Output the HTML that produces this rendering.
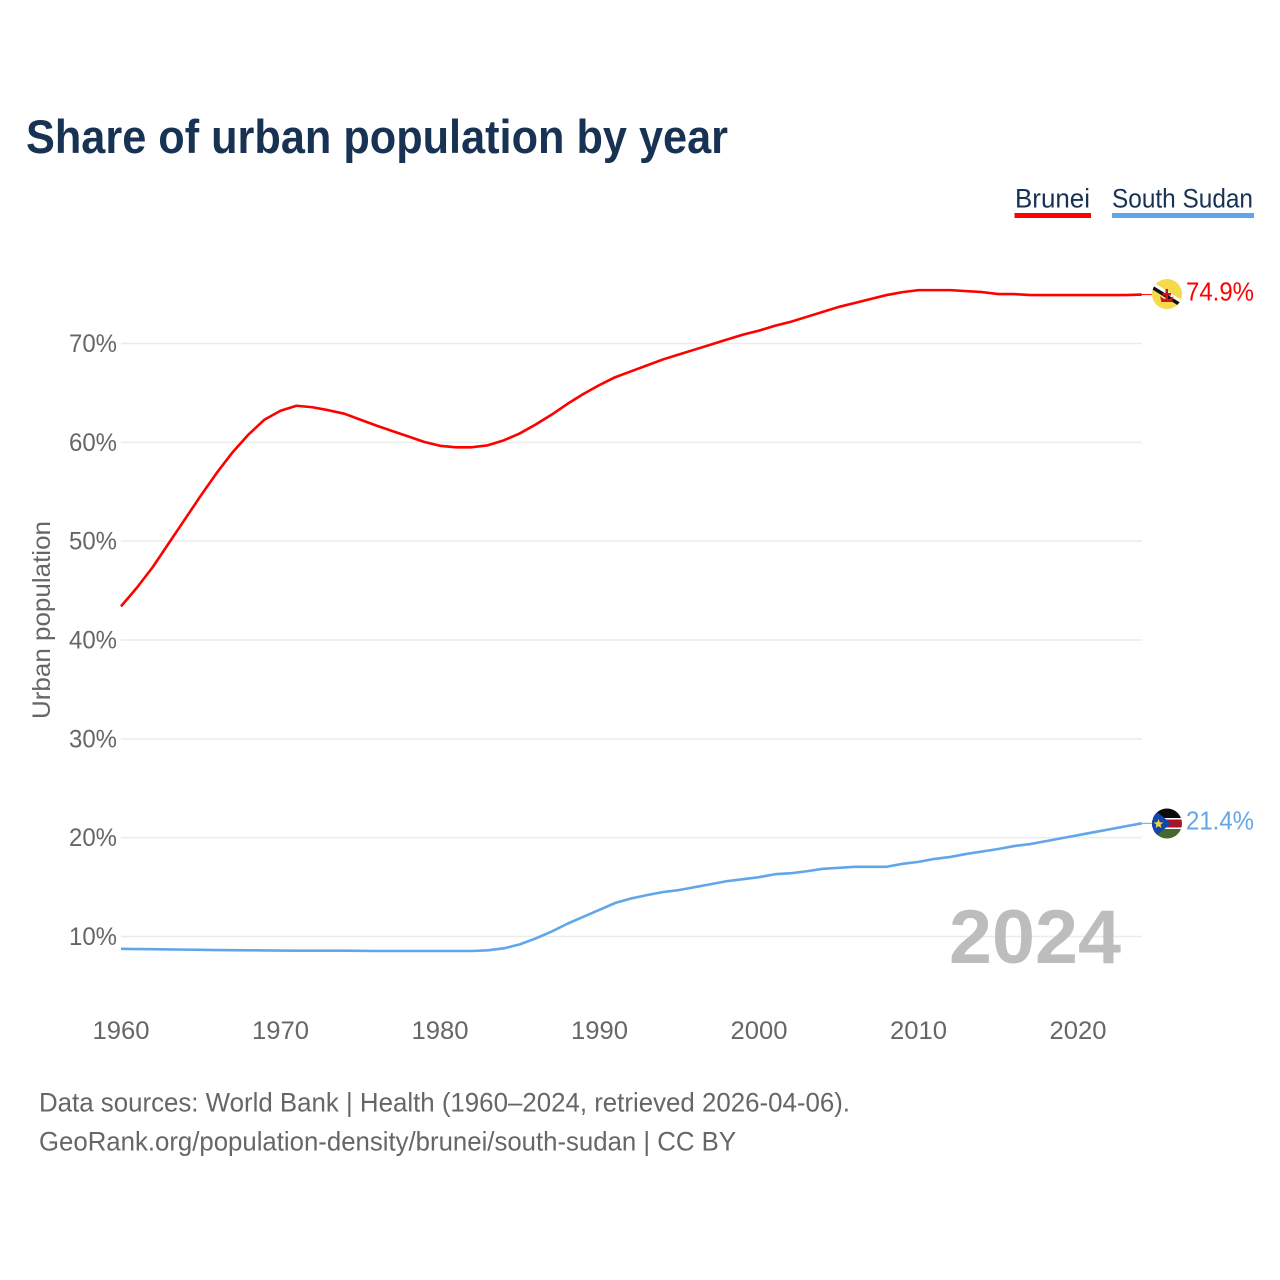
<!DOCTYPE html>
<html lang="en">
<head>
<meta charset="utf-8">
<title>Share of urban population by year</title>
<style>
html,body{margin:0;padding:0;background:#fff;}
svg{display:block;}
text{font-family:"Liberation Sans",sans-serif;}
</style>
</head>
<body>
<svg id="chart" xmlns="http://www.w3.org/2000/svg" width="1280" height="1280" viewBox="0 0 1280 1280">
  <rect width="1280" height="1280" fill="#fff"/>
  <text x="26" y="153" font-size="47" font-weight="700" fill="#173253" textLength="702" lengthAdjust="spacingAndGlyphs">Share of urban population by year</text>

  <g>
    <text x="1015" y="207.5" font-size="27" fill="#173253" textLength="75" lengthAdjust="spacingAndGlyphs">Brunei</text>
    <rect x="1014.5" y="213" width="76.5" height="5" fill="#ff0000"/>
  </g>
  <g>
    <text x="1112" y="207.5" font-size="27" fill="#173253" textLength="141" lengthAdjust="spacingAndGlyphs">South Sudan</text>
    <rect x="1112" y="213" width="142" height="5" fill="#62a6ea"/>
  </g>

  <g id="grid"></g>
  <g id="yticks"></g>
  <g id="xticks"></g>

  <text transform="translate(50,620) rotate(-90)" text-anchor="middle" font-size="25" fill="#666" textLength="198" lengthAdjust="spacingAndGlyphs">Urban population</text>

  <text x="949" y="963" font-size="76" font-weight="700" fill="#bdbdbd" textLength="172" lengthAdjust="spacingAndGlyphs">2024</text>

  <g id="series"></g>

  <defs>
    <clipPath id="clip-bn"><circle cx="1167" cy="294" r="15"/></clipPath>
    <clipPath id="clip-ss"><circle cx="1167" cy="823.5" r="15"/></clipPath>
  </defs>

  <g clip-path="url(#clip-bn)">
    <rect x="1150" y="277" width="34" height="34" fill="#f7d94c"/>
    <line x1="1150" y1="282.5" x2="1184" y2="303.5" stroke="#fff" stroke-width="3.5"/>
    <line x1="1150" y1="286" x2="1184" y2="307" stroke="#111" stroke-width="3.5"/>
    <path d="M1160 296 Q1166.7 303 1173.5 296 L1172 302 L1161.5 302 Z M1165.5 289 h2.5 v11 h-2.5 Z M1162.5 293 h8.5 v2.5 h-8.5 Z" fill="#cf1126"/>
  </g>

  <g clip-path="url(#clip-ss)">
    <rect x="1150" y="806" width="34" height="12" fill="#0b0b0b"/>
    <rect x="1150" y="818" width="34" height="1.5" fill="#fff"/>
    <rect x="1150" y="819.5" width="34" height="8" fill="#a8142c"/>
    <rect x="1150" y="827.5" width="34" height="1.5" fill="#fff"/>
    <rect x="1150" y="829" width="34" height="12" fill="#47682f"/>
    <polygon points="1150,806 1171,823.5 1150,841" fill="#0f47af"/>
    <polygon points="1158.5,819 1159.8,822.3 1163.3,822.5 1160.6,824.7 1161.5,828 1158.5,826.2 1155.5,828 1156.4,824.7 1153.7,822.5 1157.2,822.3" fill="#f0d23c"/>
  </g>

  <text x="1186" y="300.5" font-size="26" fill="#ff0000" textLength="68" lengthAdjust="spacingAndGlyphs">74.9%</text>
  <text x="1186" y="829.5" font-size="26" fill="#62a6ea" textLength="68" lengthAdjust="spacingAndGlyphs">21.4%</text>

  <text x="39" y="1111.5" font-size="27" fill="#666" textLength="811" lengthAdjust="spacingAndGlyphs">Data sources: World Bank | Health (1960–2024, retrieved 2026-04-06).</text>
  <text x="39" y="1150.5" font-size="27" fill="#666" textLength="697" lengthAdjust="spacingAndGlyphs">GeoRank.org/population-density/brunei/south-sudan | CC BY</text>
</svg>
<script>
const startYear = 1960;
const xTickLabels = [1960, 1970, 1980, 1990, 2000, 2010, 2020];
const yTickLabels = [10, 20, 30, 40, 50, 60, 70];
const bruneiValues = [43.4,45.3,47.4,49.8,52.2,54.6,56.9,59.0,60.8,62.3,63.2,63.7,63.55,63.25,62.9,62.3,61.7,61.15,60.6,60.05,59.65,59.5,59.5,59.7,60.2,60.9,61.8,62.8,63.9,64.9,65.8,66.6,67.2,67.8,68.4,68.9,69.4,69.9,70.4,70.9,71.3,71.8,72.2,72.7,73.2,73.7,74.1,74.5,74.9,75.2,75.4,75.4,75.4,75.3,75.2,75.0,75.0,74.9,74.9,74.9,74.9,74.9,74.9,74.9,74.95];
const southSudanValues = [8.75,8.73,8.71,8.69,8.67,8.65,8.63,8.61,8.6,8.59,8.57,8.56,8.56,8.56,8.56,8.55,8.53,8.53,8.53,8.53,8.53,8.53,8.53,8.6,8.8,9.2,9.8,10.5,11.3,12.0,12.7,13.4,13.85,14.2,14.5,14.7,15.0,15.3,15.6,15.8,16.0,16.3,16.4,16.6,16.85,16.95,17.05,17.05,17.05,17.35,17.55,17.85,18.05,18.35,18.6,18.85,19.15,19.35,19.65,19.95,20.25,20.55,20.85,21.15,21.45];

const SVG_NS = 'http://www.w3.org/2000/svg';
const xScale = function (year) { return 121 + (year - startYear) * 15.95; };
const yScale = function (value) { return 343.5 + (70 - value) * 9.883; };

const grid = document.getElementById('grid');
const yticks = document.getElementById('yticks');
const xticks = document.getElementById('xticks');
const series = document.getElementById('series');

yTickLabels.forEach(function (v) {
  const line = document.createElementNS(SVG_NS, 'line');
  
  
  line.setAttribute('x1', 121);
  line.setAttribute('x2', 1142);
  line.setAttribute('y1', yScale(v));
  line.setAttribute('y2', yScale(v));
  line.setAttribute('stroke', '#ebebeb');
  line.setAttribute('stroke-width', '1.5');
  grid.appendChild(line);

  const label = document.createElementNS(SVG_NS, 'text');
  
  
  label.setAttribute('x', 69);
  label.setAttribute('y', yScale(v) + 8.5);
  label.setAttribute('font-size', '25');
  label.setAttribute('fill', '#666');
  label.setAttribute('textLength', '48');
  label.setAttribute('lengthAdjust', 'spacingAndGlyphs');
  label.textContent = v + '%';
  yticks.appendChild(label);
});

xTickLabels.forEach(function (year) {
  const label = document.createElementNS(SVG_NS, 'text');
  
  
  label.setAttribute('x', xScale(year) - 28.5);
  label.setAttribute('y', 1039);
  label.setAttribute('font-size', '25');
  label.setAttribute('fill', '#666');
  label.setAttribute('textLength', '57');
  label.setAttribute('lengthAdjust', 'spacingAndGlyphs');
  label.textContent = year;
  xticks.appendChild(label);
});

function pathFor(values) {
  return values.map(function (v, i) {
    return (i ? 'L' : 'M') + xScale(startYear + i).toFixed(2) + ' ' + yScale(v).toFixed(2);
  }).join(' ');
}

const bruneiLine = document.createElementNS(SVG_NS, 'path');


bruneiLine.setAttribute('d', pathFor(bruneiValues));
bruneiLine.setAttribute('fill', 'none');
bruneiLine.setAttribute('stroke', '#ff0000');
bruneiLine.setAttribute('stroke-width', '2.6');
bruneiLine.setAttribute('stroke-linejoin', 'round');
series.appendChild(bruneiLine);

const southSudanLine = document.createElementNS(SVG_NS, 'path');


southSudanLine.setAttribute('d', pathFor(southSudanValues));
southSudanLine.setAttribute('fill', 'none');
southSudanLine.setAttribute('stroke', '#62a6ea');
southSudanLine.setAttribute('stroke-width', '2.6');
southSudanLine.setAttribute('stroke-linejoin', 'round');
series.appendChild(southSudanLine);

const lastYearX = xScale(startYear + bruneiValues.length - 1);

const bruneiConnector = document.createElementNS(SVG_NS, 'line');


bruneiConnector.setAttribute('x1', lastYearX);
bruneiConnector.setAttribute('x2', lastYearX + 10);
bruneiConnector.setAttribute('y1', yScale(bruneiValues[bruneiValues.length - 1]));
bruneiConnector.setAttribute('y2', yScale(bruneiValues[bruneiValues.length - 1]));
bruneiConnector.setAttribute('stroke', '#ff0000');
bruneiConnector.setAttribute('stroke-width', '1');
series.appendChild(bruneiConnector);

const southSudanConnector = document.createElementNS(SVG_NS, 'line');


southSudanConnector.setAttribute('x1', lastYearX);
southSudanConnector.setAttribute('x2', lastYearX + 10);
southSudanConnector.setAttribute('y1', yScale(southSudanValues[southSudanValues.length - 1]));
southSudanConnector.setAttribute('y2', yScale(southSudanValues[southSudanValues.length - 1]));
southSudanConnector.setAttribute('stroke', '#62a6ea');
southSudanConnector.setAttribute('stroke-width', '1');
series.appendChild(southSudanConnector);
</script>
</body>
</html>
